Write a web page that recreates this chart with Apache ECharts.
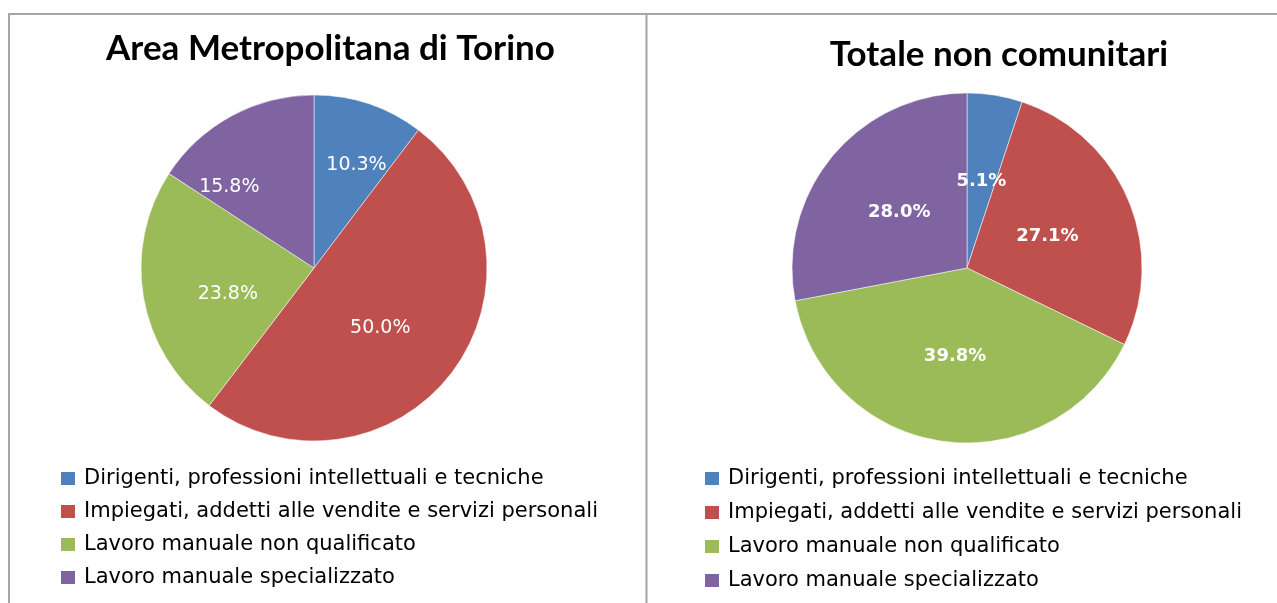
<!DOCTYPE html>
<html><head><meta charset="utf-8">
<script src="https://cdn.jsdelivr.net/npm/echarts@6/dist/echarts.min.js"></script>
<style>html,body{margin:0;padding:0;background:#fff}#c{width:1277px;height:603px}</style>
</head><body><div id="c"></div>
<script>
const categories = [
  'Dirigenti, professioni intellettuali e tecniche',
  'Impiegati, addetti alle vendite e servizi personali',
  'Lavoro manuale non qualificato',
  'Lavoro manuale specializzato'
];
const torinoValues = [10.3, 50.0, 23.8, 15.8];
const nonComunitariValues = [5.1, 27.1, 39.8, 28.0];
const titles = ['Area Metropolitana di Torino', 'Totale non comunitari'];
const colors = ['#4F81BD', '#C0504D', '#9BBB59', '#8064A2'];

const TFONT = 'Lato';
const FONT = 'DejaVu Sans';
const chart = echarts.init(document.getElementById('c'));
function pieData(vals){ return categories.map((c,i)=>({name:c, value:vals[i]})); }
function legend(left, top, gap){
  return {orient:'vertical', left:left, top:top, height:200, itemWidth:14, itemHeight:13, itemGap:gap,
    icon:'rect', selectedMode:false, itemStyle:{borderWidth:0},
    textStyle:{fontFamily:FONT, fontSize:21, color:'#000', padding:[0,0,0,4]}, data:categories};
}
const fmt = p => p.value.toFixed(1) + '%';
// small label nudges (Excel "best fit" placement)
const leftNudge = [[14,-18],[-5,6],[2,11],[-42,-2]];
const rightNudge = [[0,3],[-3,3],[0,-1],[2,2]];
chart.setOption({
  color: colors,
  animation:false,
  graphic:[
    {type:'line', shape:{x1:8,y1:14,x2:1277,y2:14}, style:{stroke:'#a6a6a6', lineWidth:2}},
    {type:'line', shape:{x1:9,y1:14,x2:9,y2:603}, style:{stroke:'#a6a6a6', lineWidth:2}},
    {type:'line', shape:{x1:646.5,y1:14,x2:646.5,y2:603}, style:{stroke:'#a6a6a6', lineWidth:2}}
  ],
  title:[
    {text:titles[0], left:325.5, top:26, textAlign:'center', textStyle:{fontFamily:TFONT, fontWeight:'bold', fontSize:35, color:'#000'}},
    {text:titles[1], left:994, top:32, textAlign:'center', textStyle:{fontFamily:TFONT, fontWeight:'bold', fontSize:35, color:'#000'}}
  ],
  legend:[legend(56, 463, 12), legend(700, 463, 13)],
  series:[
    {type:'pie', name:titles[0], center:[314,268], radius:173, startAngle:90, clockwise:true,
     data:pieData(torinoValues), label:{position:'inside', formatter:fmt, fontFamily:FONT, fontSize:19, color:'#fff'},
     labelLayout: p => ({dx:leftNudge[p.dataIndex][0], dy:leftNudge[p.dataIndex][1]}),
     labelLine:{show:false}, itemStyle:{borderColor:'#fff', borderWidth:0.5}},
    {type:'pie', name:titles[1], center:[967,268], radius:175, startAngle:90, clockwise:true,
     data:pieData(nonComunitariValues), label:{position:'inside', formatter:fmt, fontFamily:FONT, fontSize:18, fontWeight:'bold', color:'#fff'},
     labelLayout: p => ({dx:rightNudge[p.dataIndex][0], dy:rightNudge[p.dataIndex][1]}),
     labelLine:{show:false}, itemStyle:{borderColor:'#fff', borderWidth:0.5}}
  ]
});
</script></body></html>
